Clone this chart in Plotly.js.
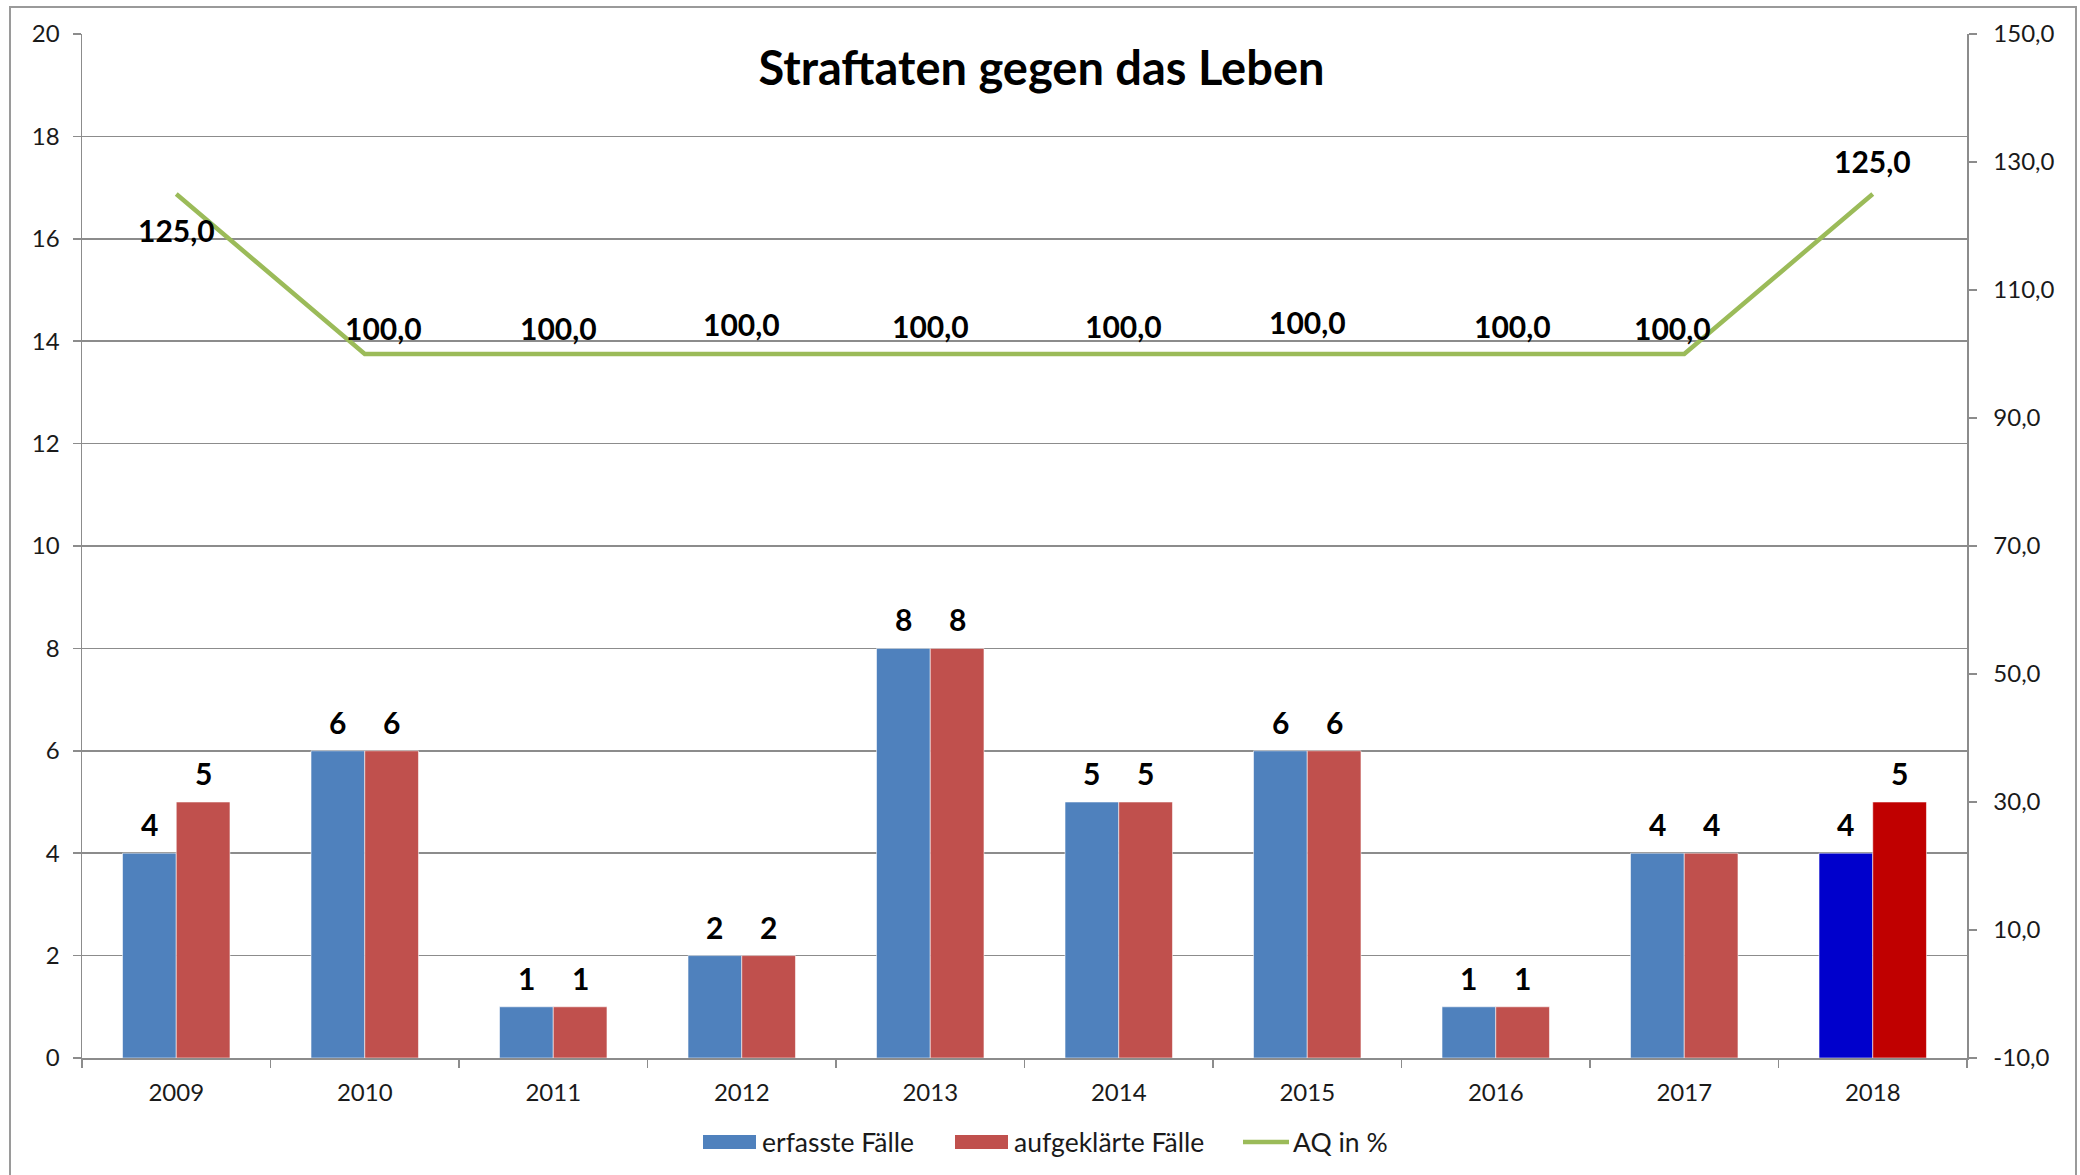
<!DOCTYPE html>
<html>
<head>
<meta charset="utf-8">
<script src="https://cdn.plot.ly/plotly-3.0.1.min.js"></script>
<style>
  html, body { margin: 0; padding: 0; background: #fff; }
  #chart { width: 2080px; height: 1175px; }
</style>
</head>
<body>
<div id="chart"></div>
<script>
// ---- data ----
const years = ['2009', '2010', '2011', '2012', '2013', '2014', '2015', '2016', '2017', '2018'];
const erfassteFaelle = [4, 6, 1, 2, 8, 5, 6, 1, 4, 4];
const aufgeklaerteFaelle = [5, 6, 1, 2, 8, 5, 6, 1, 4, 5];
const aqProzent = [125.0, 100.0, 100.0, 100.0, 100.0, 100.0, 100.0, 100.0, 100.0, 125.0];
const rightTickVals = [-10, 10, 30, 50, 70, 90, 110, 130, 150];
const seriesNames = ['erfasste Fälle', 'aufgeklärte Fälle', 'AQ in %'];

// ---- styles ----
const blue = '#4F81BD', red = '#C0504D', green = '#9BBB59';
const blueHi = '#0000CC', redHi = '#C00000';
const gridCol = '#8c8c8c';
const fontFam = 'Lato, "Liberation Sans", sans-serif';
const bargap = 0.43;
const halfBar = (1 - bargap) / 4; // centre offset of each bar within the category (category units)

// plot area geometry (pixels)
const M = { l: 82, r: 113, t: 34, b: 117 };
const W = 2080, H = 1175;
const PW = W - M.l - M.r, PH = H - M.t - M.b;
const px2x = px => (px - M.l) / PW;
const px2y = py => (H - M.b - py) / PH;

// label offsets (pixels) for the AQ labels, styling only
const aqLabelDx = [0, 19, 5, 0, 0, 5, 0, 17, -12, 0];
const aqLabelDy = [-36, 26, 26, 30, 28, 28, 32, 28, 26, 33];

const blueColors = years.map((y, i) => i === years.length - 1 ? blueHi : blue);
const redColors = years.map((y, i) => i === years.length - 1 ? redHi : red);

const traces = [
  {
    type: 'bar', name: seriesNames[0], x: years, y: erfassteFaelle,
    marker: { color: blueColors, line: { color: 'rgba(255,255,255,0.55)', width: 1 } },
    hoverinfo: 'skip', showlegend: false
  },
  {
    type: 'bar', name: seriesNames[1], x: years, y: aufgeklaerteFaelle,
    marker: { color: redColors, line: { color: 'rgba(255,255,255,0.55)', width: 1 } },
    hoverinfo: 'skip', showlegend: false
  },
  {
    type: 'scatter', mode: 'lines', name: seriesNames[2], x: years, y: aqProzent, yaxis: 'y2',
    line: { color: green, width: 4.5 },
    hoverinfo: 'skip', showlegend: false
  }
];

const annotations = [];
const labelFont = { family: fontFam, size: 30, color: '#000' };
years.forEach((yr, i) => {
  annotations.push({
    x: i - halfBar, y: erfassteFaelle[i], xref: 'x', yref: 'y',
    text: '<b>' + erfassteFaelle[i] + '</b>', showarrow: false,
    yanchor: 'middle', yshift: 29, font: labelFont
  });
  annotations.push({
    x: i + halfBar, y: aufgeklaerteFaelle[i], xref: 'x', yref: 'y',
    text: '<b>' + aufgeklaerteFaelle[i] + '</b>', showarrow: false,
    yanchor: 'middle', yshift: 29, font: labelFont
  });
  annotations.push({
    x: i, y: aqProzent[i], xref: 'x', yref: 'y2',
    text: '<b>' + aqProzent[i].toFixed(1).replace('.', ',') + '</b>', showarrow: false,
    yanchor: 'middle', xshift: aqLabelDx[i], yshift: aqLabelDy[i], font: labelFont
  });
});

// ---- custom legend (wide swatches like the original) ----
const legendFont = { family: fontFam, size: 26.5, color: '#1a1a1a' };
const legY = 1142;
const legendItems = [
  { kind: 'rect', color: blue, x0: 703, x1: 756, tx: 760 },
  { kind: 'rect', color: red, x0: 955, x1: 1008, tx: 1012 },
  { kind: 'line', color: green, x0: 1243, x1: 1289, tx: 1291 }
];
const shapes = [
  {
    type: 'rect', xref: 'paper', yref: 'paper',
    x0: px2x(10), x1: px2x(2076), y0: px2y(1200), y1: px2y(7),
    line: { color: '#9a9a9a', width: 2 }, fillcolor: 'rgba(0,0,0,0)', layer: 'below'
  }
];
legendItems.forEach((it, k) => {
  if (it.kind === 'rect') {
    shapes.push({
      type: 'rect', xref: 'paper', yref: 'paper',
      x0: px2x(it.x0), x1: px2x(it.x1), y0: px2y(legY + 7), y1: px2y(legY - 7),
      fillcolor: it.color, line: { width: 0 }
    });
  } else {
    shapes.push({
      type: 'line', xref: 'paper', yref: 'paper',
      x0: px2x(it.x0), x1: px2x(it.x1), y0: px2y(legY), y1: px2y(legY),
      line: { color: it.color, width: 4.5 }
    });
  }
  annotations.push({
    xref: 'paper', yref: 'paper', x: px2x(it.tx), y: px2y(legY),
    xanchor: 'left', yanchor: 'middle', text: seriesNames[k], showarrow: false,
    font: legendFont
  });
});

const tickFont = { family: fontFam, size: 24, color: '#1a1a1a' };

const layout = {
  width: W, height: H,
  margin: { l: M.l, r: M.r, t: M.t, b: M.b, pad: 0 },
  paper_bgcolor: '#ffffff', plot_bgcolor: '#ffffff',
  separators: ', ',
  barmode: 'group', bargap: bargap, bargroupgap: 0,
  showlegend: false,
  title: {
    text: '<b>Straftaten gegen das Leben</b>',
    font: { family: fontFam, size: 47, color: '#000' },
    xref: 'paper', yref: 'paper', x: 0.509, y: 0.966, xanchor: 'center', yanchor: 'middle'
  },
  xaxis: {
    type: 'category', tickson: 'boundaries', ticks: 'outside', ticklen: 8, tickwidth: 1.5,
    tickcolor: gridCol, showline: true, linecolor: gridCol, linewidth: 1.5,
    showgrid: false, tickfont: tickFont, ticklabelstandoff: 13, fixedrange: true
  },
  yaxis: {
    range: [0, 20], dtick: 2, tick0: 0, showgrid: true, gridcolor: gridCol, gridwidth: 1.5,
    zeroline: false, showline: true, linecolor: gridCol, linewidth: 1.5,
    ticks: 'outside', ticklen: 8, tickwidth: 1.5, tickcolor: gridCol,
    tickfont: tickFont, ticklabelstandoff: 8, fixedrange: true
  },
  yaxis2: {
    overlaying: 'y', side: 'right', range: [-10, 150],
    tickmode: 'array', tickvals: rightTickVals,
    ticktext: rightTickVals.map(v => v.toFixed(1).replace('.', ',')),
    showgrid: false, zeroline: false, showline: true,
    linecolor: gridCol, linewidth: 1.5, ticks: 'outside', ticklen: 8, tickwidth: 1.5,
    tickcolor: gridCol, tickfont: tickFont, ticklabelstandoff: 12, fixedrange: true
  },
  annotations: annotations,
  shapes: shapes
};

Plotly.newPlot('chart', traces, layout, { displayModeBar: false, staticPlot: true });
</script>
</body>
</html>
